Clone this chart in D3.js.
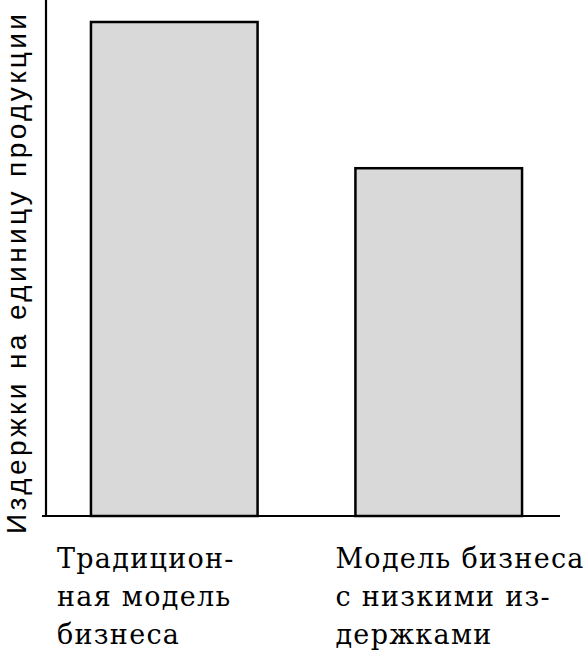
<!DOCTYPE html>
<html lang="ru">
<head>
    <meta charset="UTF-8">
    <title>Издержки на единицу продукции</title>
    <script src="https://d3js.org/d3.v7.min.js"></script>
    <style>
        body { margin: 0; padding: 0; background: #fff; }
        svg { display: block; }
        .axis-label { font-family: "Liberation Sans", Arial, sans-serif; font-size: 28px; fill: #000; }
        .cat-label { font-family: "DejaVu Serif", "Liberation Serif", "DejaVu Sans", sans-serif; font-size: 27px; letter-spacing: 1.3px; fill: #000; }
        .bar { fill: #d9d9d9; stroke: #000; stroke-width: 2.5; }
    </style>
</head>
<body>
    <div id="chart"></div>
    <script>
        // data
        const categories = ["traditional", "lowcost"];
        const costs = [100, 70.4];
        const labelLines = [
            ["Традицион-", "ная модель", "бизнеса"],
            ["Модель бизнеса", "с низкими из-", "держками"]
        ];
        const yTitle = "Издержки на единицу продукции";

        const width = 584, height = 652;
        const axisX = 46, axisY = 516;

        const svg = d3.select("#chart")
            .append("svg")
            .attr("width", width)
            .attr("height", height);

        const xScale = d3.scaleBand()
            .domain(categories)
            .range([axisX, 567])
            .paddingInner(0.37)
            .paddingOuter(0.17);

        const yScale = d3.scaleLinear()
            .domain([0, 100])
            .range([axisY, 22]);

        // bars
        svg.selectAll(".bar")
            .data(categories)
            .enter()
            .append("rect")
            .attr("class", "bar")
            .attr("x", d => xScale(d))
            .attr("y", (d, i) => yScale(costs[i]))
            .attr("width", xScale.bandwidth())
            .attr("height", (d, i) => axisY - yScale(costs[i]));

        // axes (plain lines, no ticks)
        svg.append("line")
            .attr("x1", axisX).attr("y1", 0)
            .attr("x2", axisX).attr("y2", axisY)
            .attr("stroke", "#000").attr("stroke-width", 2.2);

        svg.append("line")
            .attr("x1", axisX - 4).attr("y1", axisY)
            .attr("x2", 560).attr("y2", axisY)
            .attr("stroke", "#000").attr("stroke-width", 2.2);

        // y title, stretched along the whole axis as in the scan
        svg.append("text")
            .attr("class", "axis-label")
            .attr("transform", `translate(26,534) rotate(-90)`)
            .attr("textLength", 520)
            .attr("lengthAdjust", "spacing")
            .text(yTitle);

        // category labels, left aligned under bars
        const labelDx = [-34, -20];
        const labels = svg.selectAll(".cat-label")
            .data(categories)
            .enter()
            .append("text")
            .attr("class", "cat-label")
            .attr("transform", (d, i) => `translate(${xScale(d) + labelDx[i]},568)`);

        labels.selectAll("tspan")
            .data((d, i) => labelLines[i])
            .enter()
            .append("tspan")
            .attr("x", 0)
            .attr("dy", (d, j) => j === 0 ? 0 : 38)
            .text(d => d);
    </script>
</body>
</html>
